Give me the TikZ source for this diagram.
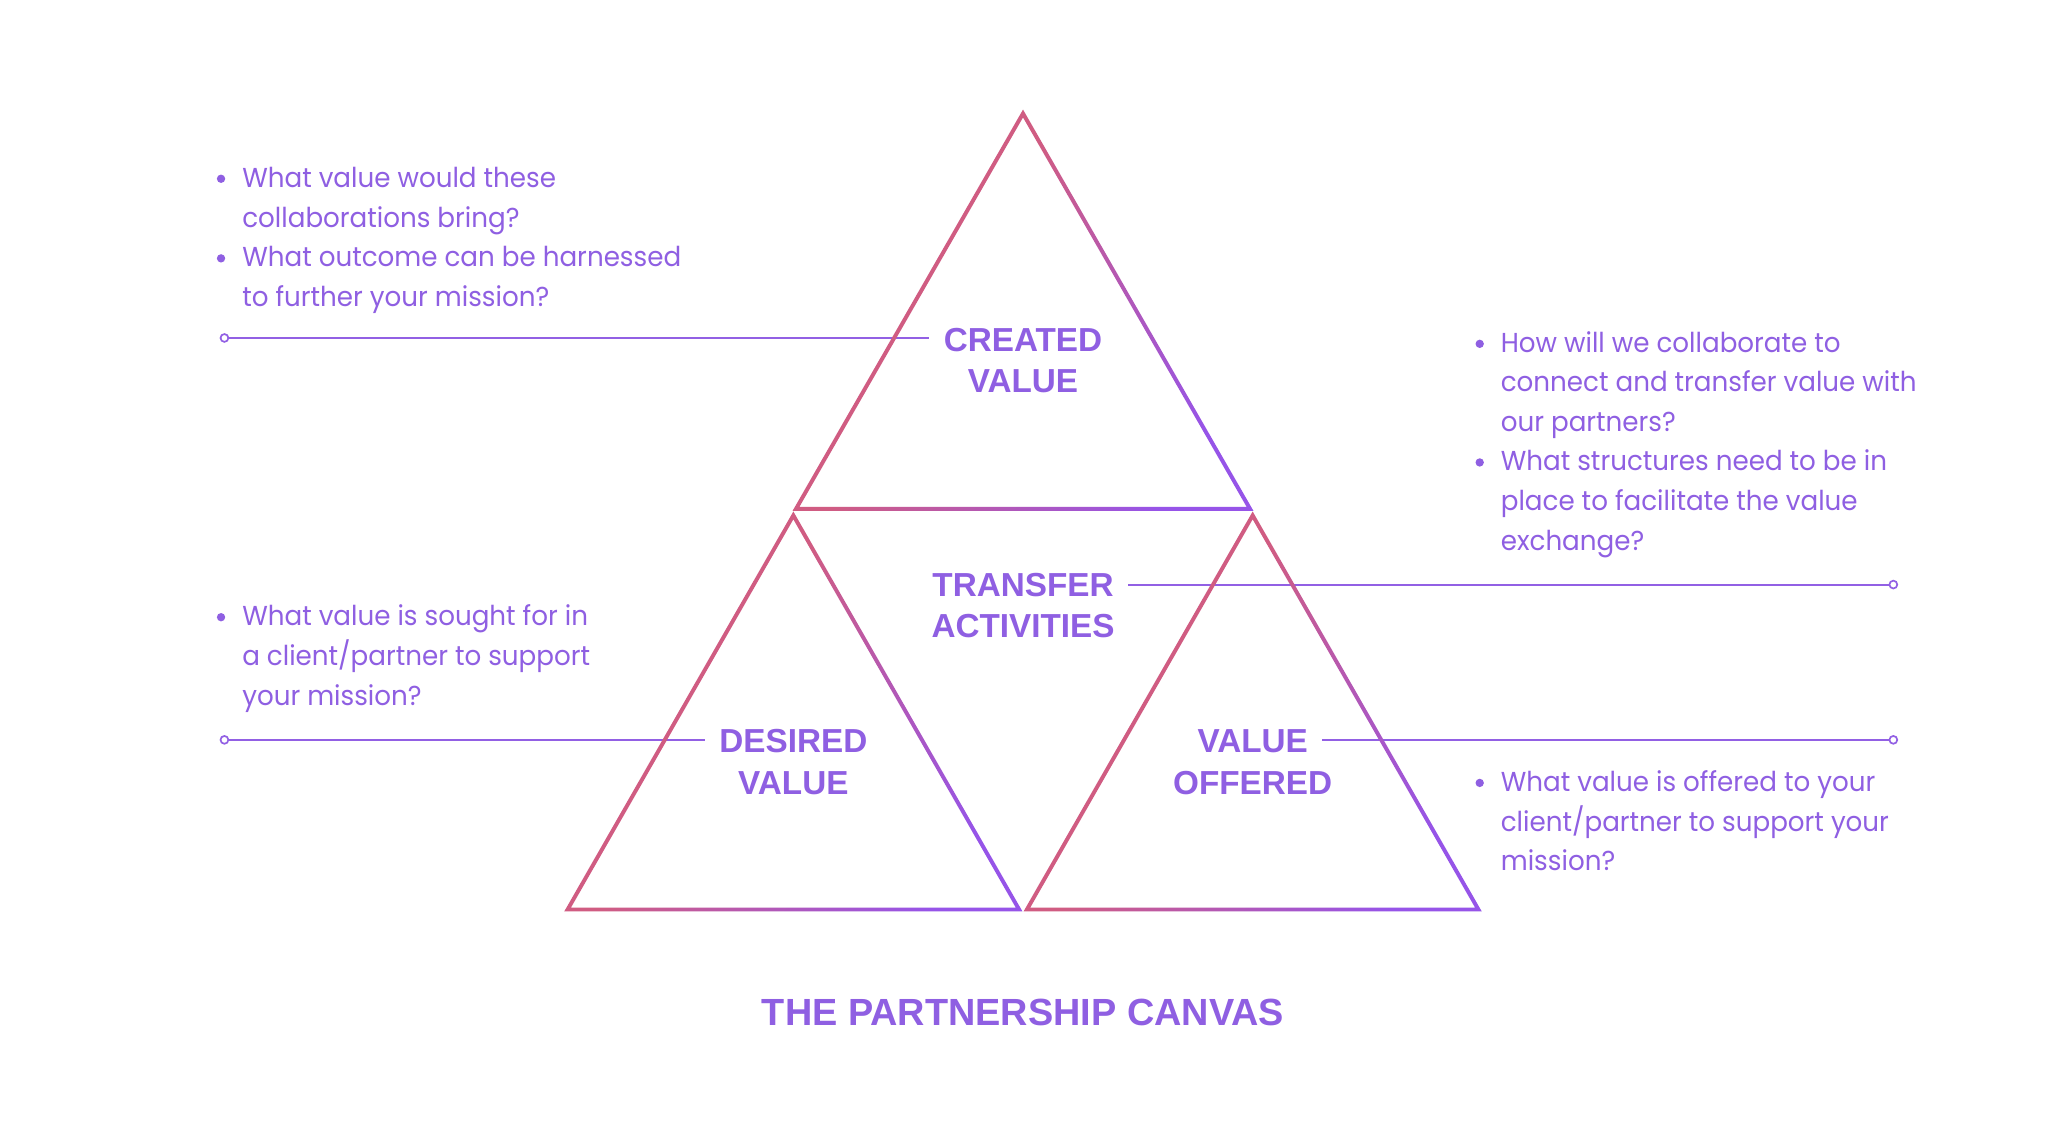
\documentclass[tikz,border=0pt]{standalone}
\usepackage{fontspec}
\setmainfont{Poppins}[FakeStretch=0.955]
\newfontfamily\headfont{Liberation Sans}
\usetikzlibrary{calc}
\definecolor{txt}{RGB}{143,95,226}
\definecolor{linec}{RGB}{146,96,228}
\definecolor{trpink}{RGB}{208,92,130}
\definecolor{trpurple}{RGB}{150,84,232}
\pgfdeclareverticalshading{trishade}{100bp}{color(0bp)=(trpurple); color(25bp)=(trpurple); color(58bp)=(trpink); color(100bp)=(trpink)}
\tikzset{
  body/.style={font=\fontsize{21}{25}\selectfont, text=txt, inner sep=0pt, anchor=base west},
  head/.style={font=\headfont\bfseries\fontsize{25.5}{30}\selectfont, text=txt, inner ysep=0pt, inner xsep=11pt, anchor=base},
  titletext/.style={font=\headfont\bfseries\fontsize{29}{34}\selectfont, text=txt, inner sep=0pt, anchor=base},
  bul/.style={circle, fill=txt, inner sep=0pt, minimum size=6.4pt},
  endc/.style={circle, draw=linec, fill=white, line width=1.3pt, inner sep=0pt, minimum size=6pt},
  conn/.style={draw=linec, line width=1.5pt},
  tristroke/.style={even odd rule, shading=trishade, shading angle=60},
}
\newcommand{\gtri}[1]{%
  \coordinate (#1C) at (barycentric cs:#1A=1,#1L=1,#1R=1);
  \shade[tristroke] ($(#1C)!1.015!(#1A)$) -- ($(#1C)!1.015!(#1L)$) -- ($(#1C)!1.015!(#1R)$) -- cycle
                    ($(#1C)!0.985!(#1A)$) -- ($(#1C)!0.985!(#1L)$) -- ($(#1C)!0.985!(#1R)$) -- cycle;
}
\begin{document}
\begin{tikzpicture}[x=1pt,y=-1pt]
\useasboundingbox[fill=white] (0,0) rectangle (1568,878);

% headings
\node[head] (cv1) at (784,269.6) {CREATED};
\node[head] (cv2) at (784,301) {VALUE};
\node[head] (ta1) at (784,457) {TRANSFER};
\node[head] (ta2) at (784,488.5) {ACTIVITIES};
\node[head] (dv1) at (608,577) {DESIRED};
\node[head] (dv2) at (608,608.5) {VALUE};
\node[head] (vo1) at (960,577) {VALUE};
\node[head] (vo2) at (960,608.5) {OFFERED};
\node[titletext] (title) at (784,786) {THE PARTNERSHIP CANVAS};

% connectors
\node[endc] (e1) at (172,259) {};
\node[endc] (e2) at (1451,448) {};
\node[endc] (e3) at (172,567) {};
\node[endc] (e4) at (1451,567) {};
\draw[conn] (e1) -- (e1 -| cv1.west);
\draw[conn] (ta1.east |- e2) -- (e2);
\draw[conn] (e3) -- (e3 -| dv1.west);
\draw[conn] (vo1.east |- e4) -- (e4);

% triangles
\coordinate (tA) at (784,87);  \coordinate (tL) at (610,390); \coordinate (tR) at (958,390);
\coordinate (lA) at (608,395); \coordinate (lL) at (435,697); \coordinate (lR) at (781,697);
\coordinate (rA) at (960,395); \coordinate (rL) at (787,697); \coordinate (rR) at (1133,697);
\gtri{t}
\gtri{l}
\gtri{r}

% block 1
\node[bul] (b11) at (169.4,137) {};
\node[body] (t11) at (185.5,143.5) {What value would these};
\node[body] (t12) at (185.5,174) {collaborations bring?};
\node[bul] (b12) at (169.4,198) {};
\node[body] (t13) at (185.5,204.5) {What outcome can be harnessed};
\node[body] (t14) at (185.5,235) {to further your mission?};

% block 2
\node[bul] (b21) at (1134,263.5) {};
\node[body] (t21) at (1150,270) {How will we collaborate to};
\node[body] (t22) at (1150,300.3) {connect and transfer value with};
\node[body] (t23) at (1150,330.6) {our partners?};
\node[bul] (b22) at (1134,354.4) {};
\node[body] (t24) at (1150,360.9) {What structures need to be in};
\node[body] (t25) at (1150,391.2) {place to facilitate the value};
\node[body] (t26) at (1150,421.5) {exchange?};

% block 3
\node[bul] (b31) at (169.4,473) {};
\node[body] (t31) at (185.5,479.5) {What value is sought for in};
\node[body] (t32) at (185.5,510) {a client/partner to support};
\node[body] (t33) at (185.5,540.5) {your mission?};

% block 4
\node[bul] (b41) at (1134,600) {};
\node[body] (t41) at (1150,606.5) {What value is offered to your};
\node[body] (t42) at (1150,637) {client/partner to support your};
\node[body] (t43) at (1150,667.5) {mission?};
\end{tikzpicture}
\end{document}
